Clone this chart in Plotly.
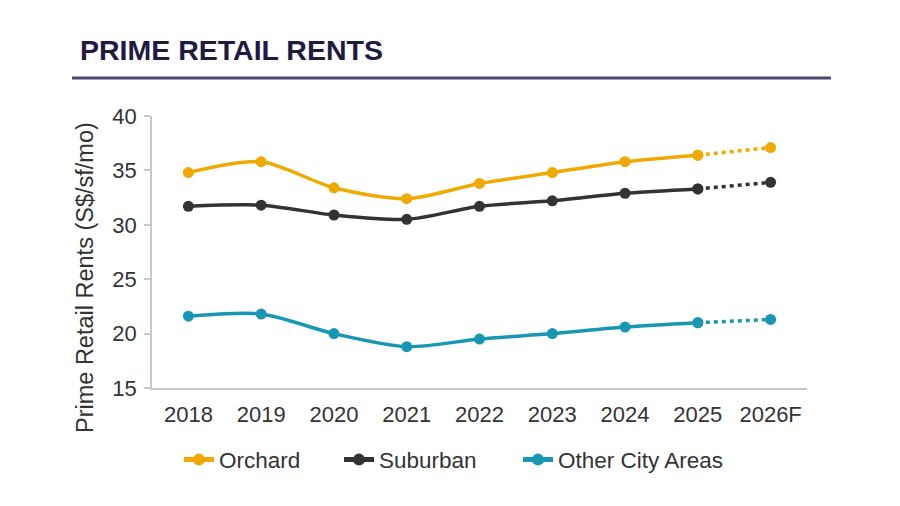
import plotly.graph_objects as go

# Prime retail rents, S$ psf per month
YEARS = ["2018", "2019", "2020", "2021", "2022", "2023", "2024", "2025", "2026F"]
ORCHARD = [34.8, 35.8, 33.4, 32.4, 33.8, 34.8, 35.8, 36.4, 37.1]
SUBURBAN = [31.7, 31.8, 30.9, 30.5, 31.7, 32.2, 32.9, 33.3, 33.9]
OTHER_CITY = [21.6, 21.8, 20.0, 18.8, 19.5, 20.0, 20.6, 21.0, 21.3]

SERIES = [
    ("Orchard", ORCHARD, "#F0A900", "legend", 0.0412),
    ("Suburban", SUBURBAN, "#333333", "legend2", 0.2855),
    ("Other City Areas", OTHER_CITY, "#1797B3", "legend3", 0.5588),
]
N_ACTUAL = 8  # last point is a forecast

FONT = "Liberation Sans, Arial, sans-serif"

fig = go.Figure()

for name, vals, color, leg, _ in SERIES:
    fig.add_trace(go.Scatter(
        x=YEARS[:N_ACTUAL], y=vals[:N_ACTUAL],
        mode="lines+markers", name=name, legend=leg,
        line=dict(color=color, width=3.5, shape="spline", smoothing=0.8),
        marker=dict(color=color, size=11),
    ))
    fig.add_trace(go.Scatter(
        x=YEARS[N_ACTUAL - 1:], y=vals[N_ACTUAL - 1:],
        mode="lines+markers", showlegend=False,
        line=dict(color=color, width=3.5, dash="4px,4px"),
        marker=dict(color=color, size=11),
    ))

legend_style = dict(
    orientation="h", xanchor="left", y=-0.2647, yanchor="middle",
    font=dict(family=FONT, size=22.5, color="#333333"),
    bgcolor="rgba(0,0,0,0)", itemsizing="constant",
)

# page has an 8px body margin; plot area spans x 144..799, y 108..380
fig.update_layout(
    width=892, height=498,
    paper_bgcolor="white", plot_bgcolor="white",
    margin=dict(l=144, r=93, t=108, b=118),
    font=dict(family=FONT, size=22, color="#333333"),
    xaxis=dict(
        type="category", categoryorder="array", categoryarray=YEARS,
        range=[-0.5, 8.5],
        showline=True, linecolor="#c8c8c8", linewidth=1.5,
        showgrid=False, zeroline=False, ticks="",
        ticklabelstandoff=6,
        tickfont=dict(size=22, color="#333333"),
    ),
    yaxis=dict(
        range=[15, 40], dtick=5,
        showline=True, linecolor="#c8c8c8", linewidth=1.5,
        showgrid=False, zeroline=False,
        ticks="outside", ticklen=6, tickcolor="#c8c8c8", tickwidth=1.5,
        ticklabelstandoff=3,
        tickfont=dict(size=22, color="#333333"),
    ),
    legend=dict(x=SERIES[0][4], **legend_style),
    legend2=dict(x=SERIES[1][4], **legend_style),
    legend3=dict(x=SERIES[2][4], **legend_style),
    showlegend=True,
)

fig.add_annotation(
    text="<b>PRIME RETAIL RENTS</b>",
    xref="paper", yref="paper", x=-0.1130, y=1.2426,
    xanchor="left", yanchor="middle", showarrow=False,
    font=dict(family=FONT, size=28.5, color="#1f1a42"),
)
fig.add_shape(
    type="line", xref="paper", yref="paper",
    x0=-0.1221, x1=1.0366, y0=1.1397, y1=1.1397,
    line=dict(color="#4f4972", width=3),
)
fig.add_annotation(
    text="Prime Retail Rents (S$/sf/mo)",
    xref="paper", yref="paper", x=-0.1023, y=0.408,
    xanchor="center", yanchor="middle", textangle=-90, showarrow=False,
    font=dict(family=FONT, size=23.5, color="#333333"),
)

fig.write_html("out.html")
